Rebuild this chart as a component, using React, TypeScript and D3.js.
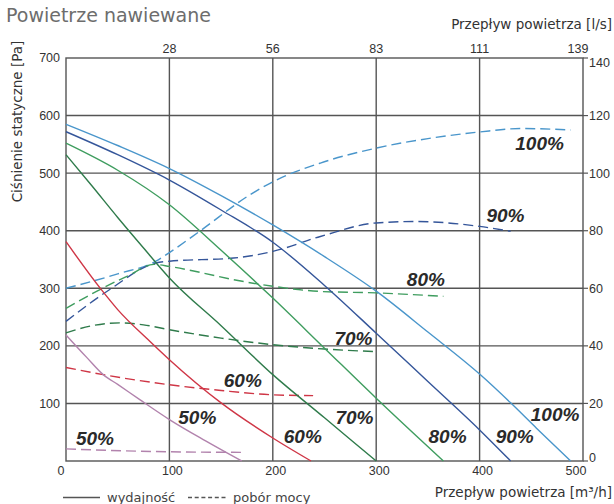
import React from 'react';
import * as d3 from 'd3';

type Pt = [number, number];

// axis ticks
const flowTicks = [0, 100, 200, 300, 400, 500];
const flowLsLabels = ['28', '56', '83', '111', '139']; // at 100..500 m³/h
const pressureTicks = [0, 100, 200, 300, 400, 500, 600, 700];
const powerTicks = [0, 20, 40, 60, 80, 100, 120, 140];

// static pressure curves [m³/h, Pa]
const pressure100: Pt[] = [[0, 585], [50, 548], [100, 508], [150, 461], [200, 410], [250, 355], [300, 295], [350, 224], [400, 151], [430, 101], [455, 57], [488, 0]];
const pressure90: Pt[] = [[0, 572], [50, 532], [100, 488], [150, 436], [200, 380], [250, 305], [300, 222], [350, 138], [400, 54], [430, 0]];
const pressure80: Pt[] = [[0, 552], [50, 505], [100, 445], [150, 366], [200, 283], [250, 196], [300, 109], [365, 0]];
const pressure70: Pt[] = [[0, 532], [25, 478], [50, 423], [75, 370], [100, 318], [150, 235], [200, 150], [250, 75], [300, 0]];
const pressure60: Pt[] = [[0, 381], [34, 298], [50, 263], [81, 208], [100, 176], [150, 101], [200, 40], [237, 0]];
const pressure50: Pt[] = [[0, 219], [20, 180], [36, 150], [50, 133], [71, 107], [100, 72], [135, 35], [170, 0]];

// power consumption curves [m³/h, W]
const power100: Pt[] = [[0, 60], [50, 65], [87, 69.4], [100, 72.4], [130, 80], [178, 92.5], [200, 97], [246, 103.5], [300, 108.7], [350, 112], [400, 114.3], [440, 115.5], [488, 115]];
const power90: Pt[] = [[0, 48.5], [42, 59.5], [87, 68.8], [100, 69.4], [162, 70.5], [200, 72.8], [246, 78], [300, 82.7], [339, 83.2], [400, 81.5], [430, 79.8]];
const power80: Pt[] = [[0, 53], [30, 59], [62, 64.7], [85, 68.3], [100, 67.6], [130, 65.5], [162, 63], [200, 60.7], [246, 58.9], [300, 58.4], [365, 57.2]];
const power70: Pt[] = [[0, 44.5], [25, 47], [52, 48], [75, 47.3], [100, 45.6], [150, 42.7], [200, 40.4], [250, 38.9], [300, 38]];
const power60: Pt[] = [[0, 32.5], [36, 30], [100, 26.5], [150, 24.5], [200, 23], [239, 22.7]];
const power50: Pt[] = [[0, 4.2], [40, 3.7], [100, 3.2], [170, 3.0]];

const speedNames = ['100%', '90%', '80%', '70%', '60%', '50%'];
const speedColors = ['#4a96cb', '#35569a', '#3f9d5f', '#2f7b4b', '#cf3646', '#b283ad'];

// label anchors [m³/h, Pa]
const pressureLabelAt: Pt[] = [[473, 81], [434, 43], [369, 43], [279, 77], [229, 44], [127, 76]];
const powerLabelAt: Pt[] = [[458, 552], [425, 427], [348, 315], [278, 214], [171, 140], [28, 39]];

const pressureSeries = [pressure100, pressure90, pressure80, pressure70, pressure60, pressure50];
const powerSeries = [power100, power90, power80, power70, power60, power50];

const W = 614;
const H = 504;
const left = 66;
const right = 583;
const top = 58;
const bottom = 461;

const sans = "'DejaVu Sans', Verdana, sans-serif";
const num = "'Liberation Sans Narrow', 'Liberation Sans', Arial, sans-serif";
const labelFont = "'Liberation Sans', Arial, sans-serif";
const grid = '#555';

export default function App() {
  const x = d3.scaleLinear().domain([0, 500]).range([left, right]);
  const y = d3.scaleLinear().domain([0, 700]).range([bottom, top]);
  const yR = d3.scaleLinear().domain([0, 140]).range([bottom, top]);

  const lineP = d3.line<Pt>().x(d => x(d[0])).y(d => y(d[1])).curve(d3.curveMonotoneX);
  const lineW = d3.line<Pt>().x(d => x(d[0])).y(d => yR(d[1])).curve(d3.curveMonotoneX);

  return (
    <svg width={W} height={H} style={{ position: 'absolute', left: 0, top: 0, background: '#fff' }}>
      <rect x={0} y={0} width={W} height={H} fill="#fff" />
      <text x={6} y={22} fontFamily={sans} fontSize={19} fill="#6d6d6d">Powietrze nawiewane</text>
      <text x={612} y={29} textAnchor="end" fontFamily={sans} fontSize={13.5} fill="#333">Przepływ powietrza [l/s]</text>

      {/* grid */}
      {flowTicks.slice(1, -1).map(t => (
        <line key={'vx' + t} x1={x(t)} x2={x(t)} y1={top} y2={bottom} stroke={grid} strokeWidth={1.4} />
      ))}
      {pressureTicks.slice(1, -1).map(t => (
        <line key={'hy' + t} x1={left} x2={right} y1={y(t)} y2={y(t)} stroke={grid} strokeWidth={1.4} />
      ))}
      <rect x={left} y={top} width={right - left} height={bottom - top} fill="none" stroke={grid} strokeWidth={1.4} />

      {/* right axis ticks */}
      {powerTicks.map(t => (
        <line key={'rt' + t} x1={right} x2={right + 5} y1={yR(t)} y2={yR(t)} stroke={grid} strokeWidth={1.2} />
      ))}

      {/* left tick labels (the 0 is shared with the bottom axis) */}
      {pressureTicks.slice(1).map(t => (
        <text key={'yl' + t} x={left - 6} y={y(t)} dy="0.35em" textAnchor="end" fontFamily={num} fontSize={12.5} fill="#333">{t}</text>
      ))}
      {/* right tick labels */}
      {powerTicks.map(t => (
        <text key={'yr' + t} x={right + 6} y={yR(t)} dy={t === 140 ? '0.7em' : t === 0 ? '0.1em' : '0.35em'} textAnchor="start" fontFamily={num} fontSize={12.5} fill="#333">{t}</text>
      ))}
      {/* bottom tick labels */}
      {flowTicks.map(t => (
        <text key={'xl' + t} x={x(t) + (t === 0 ? -5 : t === 500 ? -7 : 3)} y={475} textAnchor="middle" fontFamily={num} fontSize={12.5} fill="#333">{t}</text>
      ))}
      {/* top tick labels (l/s) */}
      {flowTicks.slice(1).map((t, i) => (
        <text key={'tl' + t} x={x(t) + (t === 500 ? -5 : 0)} y={53} textAnchor="middle" fontFamily={num} fontSize={12.5} fill="#333">{flowLsLabels[i]}</text>
      ))}

      <text transform={`translate(22,${(38 + 205) / 2}) rotate(-90)`} textAnchor="middle" fontFamily={sans} fontSize={13.5} fill="#333">Ciśnienie statyczne [Pa]</text>
      <text x={612} y={497} textAnchor="end" fontFamily={sans} fontSize={13.5} fill="#333">Przepływ powietrza [m³/h]</text>

      {/* curves */}
      {powerSeries.map((s, i) => (
        <path key={'pw' + i} d={lineW(s) || ''} fill="none" stroke={speedColors[i]} strokeWidth={1.4} strokeDasharray="10,5" />
      ))}
      {pressureSeries.map((s, i) => (
        <path key={'pr' + i} d={lineP(s) || ''} fill="none" stroke={speedColors[i]} strokeWidth={1.4} />
      ))}

      {/* labels */}
      {pressureLabelAt.map((p, i) => (
        <text key={'lp' + i} x={x(p[0])} y={y(p[1])} dy="0.36em" textAnchor="middle" fontFamily={labelFont} fontWeight="bold" fontStyle="italic" fontSize={19} fill="#2a2a2a">{speedNames[i]}</text>
      ))}
      {powerLabelAt.map((p, i) => (
        <text key={'lw' + i} x={x(p[0])} y={y(p[1])} dy="0.36em" textAnchor="middle" fontFamily={labelFont} fontWeight="bold" fontStyle="italic" fontSize={19} fill="#2a2a2a">{speedNames[i]}</text>
      ))}

      {/* legend */}
      <line x1={63} x2={100} y1={497.5} y2={497.5} stroke="#555" strokeWidth={1.3} />
      <text x={107} y={502} fontFamily={sans} fontSize={13} fill="#444">wydajność</text>
      <line x1={188} x2={227} y1={497.5} y2={497.5} stroke="#555" strokeWidth={1.3} strokeDasharray="4,2.7" />
      <text x={233} y={502} fontFamily={sans} fontSize={13} fill="#444">pobór mocy</text>
    </svg>
  );
}
